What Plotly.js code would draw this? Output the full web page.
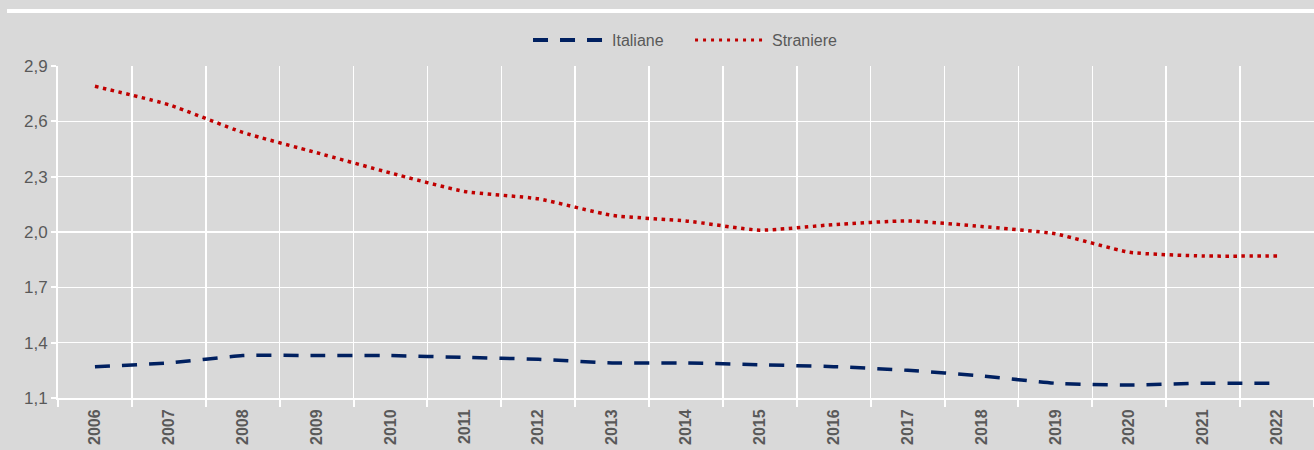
<!DOCTYPE html>
<html><head><meta charset="utf-8">
<script src="https://cdn.plot.ly/plotly-3.0.1.min.js"></script>
<style>html,body{margin:0;padding:0;background:#D9D9D9;}#chart{width:1314px;height:450px;}</style>
</head><body><div id="chart"></div>
<script>
const years = ["2006","2007","2008","2009","2010","2011","2012","2013","2014","2015","2016","2017","2018","2019","2020","2021","2022"];
const italiane = [1.27,1.29,1.33,1.33,1.33,1.32,1.31,1.29,1.29,1.28,1.27,1.25,1.22,1.18,1.17,1.18,1.18];
const straniere = [2.79,2.69,2.54,2.43,2.32,2.22,2.18,2.09,2.06,2.01,2.04,2.06,2.03,1.99,1.89,1.87,1.87];
const yTicks = [1.1,1.4,1.7,2.0,2.3,2.6,2.9];
const yTickText = ["1,1","1,4","1,7","2,0","2,3","2,6","2,9"];
const seriesNames = ["Italiane","Straniere"];
const seriesColors = ["#002060","#C00000"];

const FONT = '"Liberation Sans Narrow", "Arial Narrow", "Liberation Sans", Arial, sans-serif';
const DASH = "15px,12px";
const DOT = "3.5px,4.5px";

const traces = [
  {x: years, y: italiane, name: seriesNames[0], type: "scatter", mode: "lines", showlegend: false,
   line: {color: seriesColors[0], width: 3.5, dash: DASH, shape: "spline", smoothing: 0.5}},
  {x: years, y: straniere, name: seriesNames[1], type: "scatter", mode: "lines", showlegend: false,
   line: {color: seriesColors[1], width: 3.5, dash: DOT, shape: "spline", smoothing: 0.5}}
];

const legY = 1.078;
const layout = {
  width: 1314, height: 450,
  margin: {l: 58, r: 0, t: 66, b: 52},
  paper_bgcolor: "#D9D9D9", plot_bgcolor: "#D9D9D9",
  font: {family: FONT, color: "#595959", size: 16},
  showlegend: false,
  xaxis: {type: "category", range: [-0.5, 16.5], tickson: "boundaries", showgrid: true, gridcolor: "#FFFFFF", gridwidth: 1.5,
          ticks: "outside", ticklen: 7, tickcolor: "#FFFFFF", tickwidth: 2, ticklabelstandoff: 3,
          showline: true, linecolor: "#FFFFFF", linewidth: 2,
          tickangle: -90, tickfont: {family: FONT, size: 16, color: "#595959", weight: "bold"},
          fixedrange: true, zeroline: false},
  yaxis: {range: [1.1, 2.9], tickvals: yTicks, ticktext: yTickText, showgrid: true,
          gridcolor: "#FFFFFF", gridwidth: 1.5, ticks: "outside", ticklen: 5, tickcolor: "#FFFFFF", tickwidth: 2,
          showline: true, linecolor: "#FFFFFF", linewidth: 2, zeroline: false,
          tickfont: {family: FONT, size: 17, color: "#595959"}, fixedrange: true},
  shapes: [
    {type: "line", xref: "paper", yref: "paper", x0: -0.0406, x1: 1, y0: 1.1657, y1: 1.1657,
     line: {color: "#FFFFFF", width: 4}},
    {type: "line", xref: "paper", yref: "paper", x0: 0.3782, x1: 0.4355, y0: legY, y1: legY,
     line: {color: seriesColors[0], width: 4, dash: DASH}},
    {type: "line", xref: "paper", yref: "paper", x0: 0.5072, x1: 0.5629, y0: legY, y1: legY,
     line: {color: seriesColors[1], width: 3, dash: "3px,5px"}}
  ],
  annotations: [
    {xref: "paper", yref: "paper", x: 0.4395, y: legY, xanchor: "left", yanchor: "middle", showarrow: false,
     text: seriesNames[0], font: {family: FONT, size: 16, color: "#595959"}},
    {xref: "paper", yref: "paper", x: 0.5669, y: legY, xanchor: "left", yanchor: "middle", showarrow: false,
     text: seriesNames[1], font: {family: FONT, size: 16, color: "#595959"}}
  ]
};

Plotly.newPlot("chart", traces, layout, {displayModeBar: false, staticPlot: true});
</script></body></html>
